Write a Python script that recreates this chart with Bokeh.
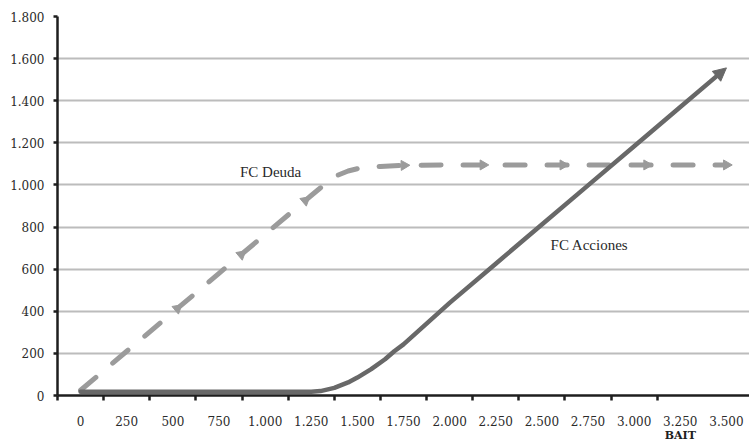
import numpy as np
from bokeh.plotting import figure
from bokeh.models import Range1d, FixedTicker, Label, Arrow, NormalHead, LinearAxis
from bokeh.embed import file_html
from bokeh.resources import INLINE

# ---- data ----
x_ticks = [0, 250, 500, 750, 1000, 1250, 1500, 1750, 2000, 2250, 2500, 2750, 3000, 3250, 3500]
x_tick_labels = ["0", "250", "500", "750", "1.000", "1.250", "1.500", "1.750", "2.000",
                 "2.250", "2.500", "2.750", "3.000", "3.250", "3.500"]
y_ticks = [0, 200, 400, 600, 800, 1000, 1200, 1400, 1600, 1800]
y_tick_labels = ["0", "200", "400", "600", "800", "1.000", "1.200", "1.400", "1.600", "1.800"]
x_title = "BAIT"
x_title_pos = 3250

debt_x = [0, 250, 500, 750, 1000, 1250, 1375, 1450, 1500, 1625, 1750, 2000, 2250, 2500, 2750, 3000, 3250, 3500]
debt_y = [25, 210, 395, 580, 765, 950, 1040, 1066, 1077, 1088, 1093, 1095, 1095, 1095, 1095, 1095, 1095, 1095]

equity_x = [0, 250, 500, 750, 1000, 1250, 1300, 1375, 1450, 1500, 1575, 1650, 1700, 1750, 2000, 2250, 2500, 2750, 3000, 3250, 3500]
equity_y = [18, 18, 18, 18, 18, 18, 21, 36, 62, 85, 125, 172, 210, 243, 440, 626, 812, 998, 1184, 1370, 1556]

debt_arrow_x = [525, 871, 1218, 1753, 2181, 2614, 3068, 3500]

DEBT_COLOR = "#9b9b9b"
EQ_COLOR = "#686868"
TEXT_COLOR = "#2a2a2a"

p = figure(width=749, height=444, output_backend="svg", toolbar_location=None,
           x_range=Range1d(-125, 3625), y_range=Range1d(0, 1800),
           min_border_left=57, min_border_right=0, min_border_top=16, min_border_bottom=0)
p.outline_line_color = None
p.background_fill_color = "white"
p.border_fill_color = "white"

# axes
x_bounds = [x - 125 for x in x_ticks[:-1]]
p.xaxis.ticker = FixedTicker(ticks=x_ticks, minor_ticks=x_bounds)
p.xaxis.major_label_overrides = dict(zip(x_ticks, x_tick_labels))
p.xaxis.major_tick_out = 0
p.xaxis.major_tick_in = 0
p.xaxis.minor_tick_out = 5
p.xaxis.minor_tick_in = 0
p.xaxis.minor_tick_line_width = 2.5
p.xaxis.minor_tick_line_color = "#1e1e1e"
p.xaxis.major_label_standoff = 15

p.yaxis.ticker = FixedTicker(ticks=y_ticks, minor_ticks=[])
p.yaxis.major_label_overrides = dict(zip(y_ticks, y_tick_labels))
p.yaxis.major_tick_out = 4
p.yaxis.major_tick_in = 0
p.yaxis.major_tick_line_width = 2.5
p.yaxis.major_tick_line_color = "#1e1e1e"
p.yaxis.major_label_standoff = 9

for ax in (p.xaxis, p.yaxis):
    ax.axis_line_width = 2.5
    ax.axis_line_color = "#1e1e1e"
    ax.major_label_text_font = "DejaVu Serif"
    ax.major_label_text_font_size = "12px"
    ax.major_label_text_color = TEXT_COLOR

# second bottom axis carrying only the "BAIT" title under 3.250
title_axis = LinearAxis(ticker=FixedTicker(ticks=[x_title_pos], minor_ticks=[]),
                        major_label_overrides={x_title_pos: x_title},
                        axis_line_color=None, major_tick_line_color=None,
                        minor_tick_line_color=None, major_tick_out=0, major_tick_in=0,
                        major_label_standoff=0,
                        major_label_text_font="DejaVu Serif",
                        major_label_text_font_style="bold",
                        major_label_text_font_size="11px",
                        major_label_text_color="#1e1e1e")
p.add_layout(title_axis, "below")

p.xgrid.visible = False
p.ygrid.ticker = FixedTicker(ticks=y_ticks, minor_ticks=[])
p.ygrid.grid_line_color = "#bcbcbc"
p.ygrid.grid_line_width = 2

# FC Deuda (dashed with arrow heads)
p.line(debt_x, debt_y, line_color=DEBT_COLOR, line_width=5, line_dash="20 22", line_cap="round")

# screen angles of arrow heads from local slope
px_per_x = 692 / 3750.0
px_per_y = 380 / 1800.0
ax_arr = np.array(debt_arrow_x, dtype=float)
ay_arr = np.interp(ax_arr, debt_x, debt_y)
slopes = (np.interp(ax_arr + 20, debt_x, debt_y) - np.interp(ax_arr - 20, debt_x, debt_y)) / 40.0
angles = np.arctan(slopes * px_per_y / px_per_x) - np.pi / 2
p.scatter(ax_arr, ay_arr, marker="triangle", size=10, angle=angles,
          fill_color=DEBT_COLOR, line_color=DEBT_COLOR)

# FC Acciones (solid with arrow at end)
p.line(equity_x[:-1] + [equity_x[-1] - 40], equity_y[:-1] + [equity_y[-1] - 40 * 0.744],
       line_color=EQ_COLOR, line_width=4.5, line_cap="round", line_join="round")
p.add_layout(Arrow(end=NormalHead(size=13, fill_color=EQ_COLOR, line_color=EQ_COLOR),
                   x_start=equity_x[-2], y_start=equity_y[-2],
                   x_end=equity_x[-1], y_end=equity_y[-1],
                   line_color=EQ_COLOR, line_width=0.1))

# annotations
p.add_layout(Label(x=1030, y=1061, text="FC Deuda", text_align="center", text_baseline="middle",
                   text_font="Liberation Serif", text_font_size="15px", text_color=TEXT_COLOR))
p.add_layout(Label(x=2758, y=715, text="FC Acciones", text_align="center", text_baseline="middle",
                   text_font="Liberation Serif", text_font_size="15px", text_color=TEXT_COLOR))

open("out.html", "w").write(file_html(p, INLINE))
